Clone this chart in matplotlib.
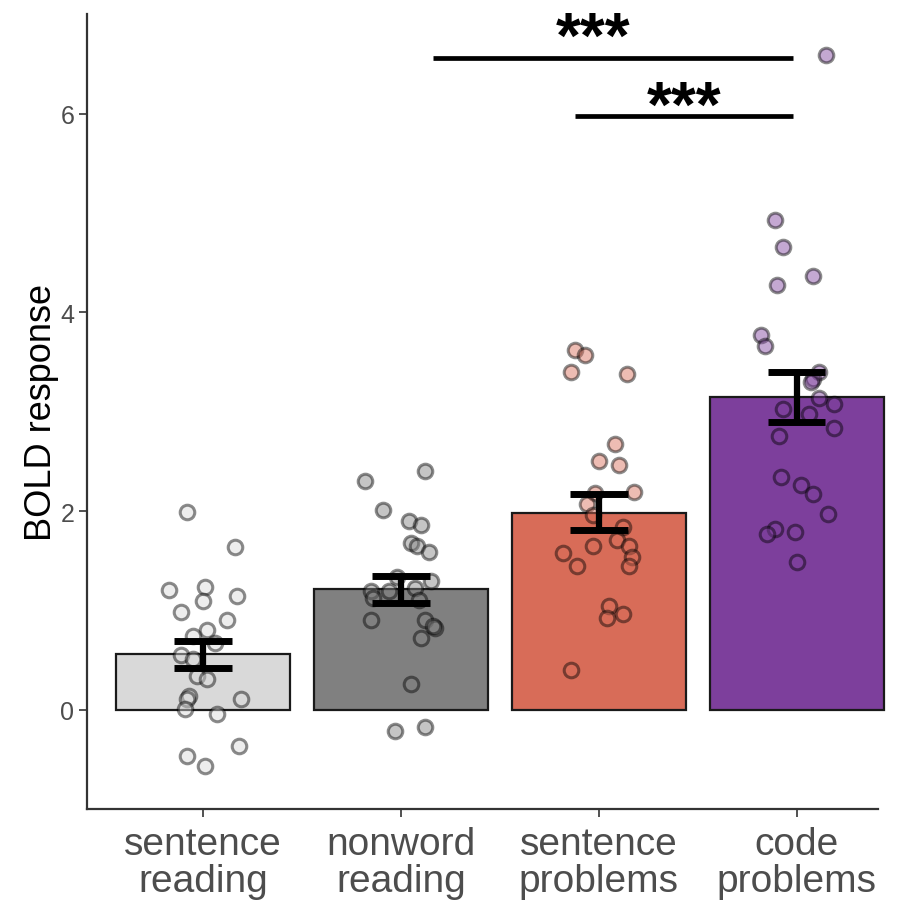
import matplotlib
matplotlib.use("Agg")
import matplotlib.pyplot as plt
import numpy as np

plt.rcParams['font.family'] = ['Liberation Sans', 'DejaVu Sans']

# Conditions and group means / standard errors
categories = ["sentence\nreading", "nonword\nreading", "sentence\nproblems", "code\nproblems"]
means = [0.56, 1.21, 1.98, 3.15]
err_low = [0.42, 1.07, 1.81, 2.90]
err_high = [0.69, 1.35, 2.17, 3.40]
bar_colors = ["#d9d9d9", "#808080", "#d86c58", "#7d3f9c"]

# Individual participant responses per condition (with horizontal jitter offsets)
sent_read = [1.99, 1.64, 1.20, 1.23, 1.09, 1.14, 0.98, 0.90, 0.80, 0.74, 0.67, 0.55,
             0.51, 0.34, 0.31, 0.14, 0.11, 0.11, 0.01, -0.04, -0.37, -0.47, -0.57]
sent_read_jit = [-0.08, 0.16, -0.17, 0.01, 0.00, 0.17, -0.11, 0.12, 0.02, -0.05, 0.06, -0.11,
                 -0.05, -0.03, 0.02, -0.07, -0.08, 0.19, -0.09, 0.07, 0.18, -0.08, 0.01]
nonword = [2.40, 2.30, 2.01, 1.90, 1.86, 1.68, 1.65, 1.59, 1.34, 1.30, 1.19, 1.19,
           1.22, 1.12, 1.10, 0.90, 0.90, 0.82, 0.84, 0.72, 0.26, -0.17, -0.21]
nonword_jit = [0.12, -0.18, -0.09, 0.04, 0.10, 0.05, 0.08, 0.14, -0.02, 0.15, -0.15, -0.06,
               0.07, -0.14, 0.09, -0.15, 0.12, 0.17, 0.16, 0.10, 0.05, 0.12, -0.03]
sent_prob = [3.62, 3.57, 3.40, 3.38, 2.67, 2.50, 2.46, 2.19, 2.18, 2.07, 1.96, 1.84,
             1.71, 1.65, 1.65, 1.58, 1.54, 1.45, 1.45, 1.04, 0.92, 0.96, 0.40]
sent_prob_jit = [-0.12, -0.07, -0.14, 0.14, 0.08, 0.00, 0.10, 0.18, -0.02, -0.06, -0.03, 0.12,
                 0.09, -0.03, 0.15, -0.18, 0.17, -0.11, 0.15, 0.05, 0.04, 0.12, -0.14]
code_prob = [6.59, 4.93, 4.66, 4.37, 4.28, 3.77, 3.66, 3.40, 3.33, 3.30, 3.14, 3.08,
             3.03, 2.98, 2.84, 2.76, 2.34, 2.26, 2.17, 1.97, 1.82, 1.77, 1.79, 1.49]
code_prob_jit = [0.15, -0.11, -0.07, 0.08, -0.10, -0.18, -0.16, 0.11, 0.08, 0.07, 0.11, 0.19,
                 -0.07, 0.06, 0.19, -0.09, -0.08, 0.02, 0.08, 0.16, -0.11, -0.15, -0.01, 0.00]

points = [sent_read, nonword, sent_prob, code_prob]
jitters = [sent_read_jit, nonword_jit, sent_prob_jit, code_prob_jit]

# Pairwise significance brackets: (x start, x end, height, label)
sig_x_start = [2.16, 2.88]
sig_x_end = [3.98, 3.98]
sig_y = [6.56, 5.98]
sig_labels = ["***", "***"]
sig_label_x = [2.97, 3.43]
sig_label_y = [6.57, 5.88]

fig = plt.figure(figsize=(9.06, 9.04), dpi=100)
ax = fig.add_axes([0.096, 0.104, 0.873, 0.879])

x = np.arange(1, len(categories) + 1)
bars = ax.bar(x, means, width=0.88, color=bar_colors, edgecolor="#1a1a1a", linewidth=1.6,
              zorder=1)
for b in bars:
    b.set_clip_on(False)

for i, (vals, jit) in enumerate(zip(points, jitters)):
    xs = x[i] + np.array(jit)
    ax.scatter(xs, vals, s=110, facecolor=bar_colors[i], edgecolor="black",
               linewidth=2.2, alpha=0.45, zorder=2)

for i in range(len(categories)):
    ax.plot([x[i], x[i]], [err_low[i], err_high[i]], color="black", lw=4.5, zorder=3,
            solid_capstyle="butt")
    for yv in (err_low[i], err_high[i]):
        ax.plot([x[i] - 0.145, x[i] + 0.145], [yv, yv], color="black", lw=5, zorder=3,
                solid_capstyle="butt")

for xs0, xs1, ys, lab, lx, ly in zip(sig_x_start, sig_x_end, sig_y, sig_labels,
                                     sig_label_x, sig_label_y):
    ax.plot([xs0, xs1], [ys, ys], color="black", lw=3.4, solid_capstyle="butt", zorder=4,
            clip_on=False)
    ax.text(lx, ly, lab, ha="center", va="baseline", fontsize=46, fontweight="bold",
            zorder=5, clip_on=False)

ax.set_xlim(0.414, 4.41)
ax.set_ylim(-1, 7)
ax.set_yticks([0, 2, 4, 6])
ax.set_xticks(x)
ax.set_xticklabels(categories)
ax.tick_params(axis="x", labelsize=28, labelcolor="#4d4d4d", length=6, width=1.2,
               color="#333333", pad=6)
ax.tick_params(axis="y", labelsize=18, labelcolor="#4d4d4d", length=6, width=1.2,
               color="#333333", pad=3)
for lab in ax.get_xticklabels():
    lab.set_linespacing(1.05)
ax.set_ylabel("BOLD response", fontsize=26, color="black", labelpad=1)

for side in ("top", "right"):
    ax.spines[side].set_visible(False)
for side in ("left", "bottom"):
    ax.spines[side].set_linewidth(1.6)
    ax.spines[side].set_color("#333333")

fig.savefig("out.png", dpi=100, facecolor="white")
